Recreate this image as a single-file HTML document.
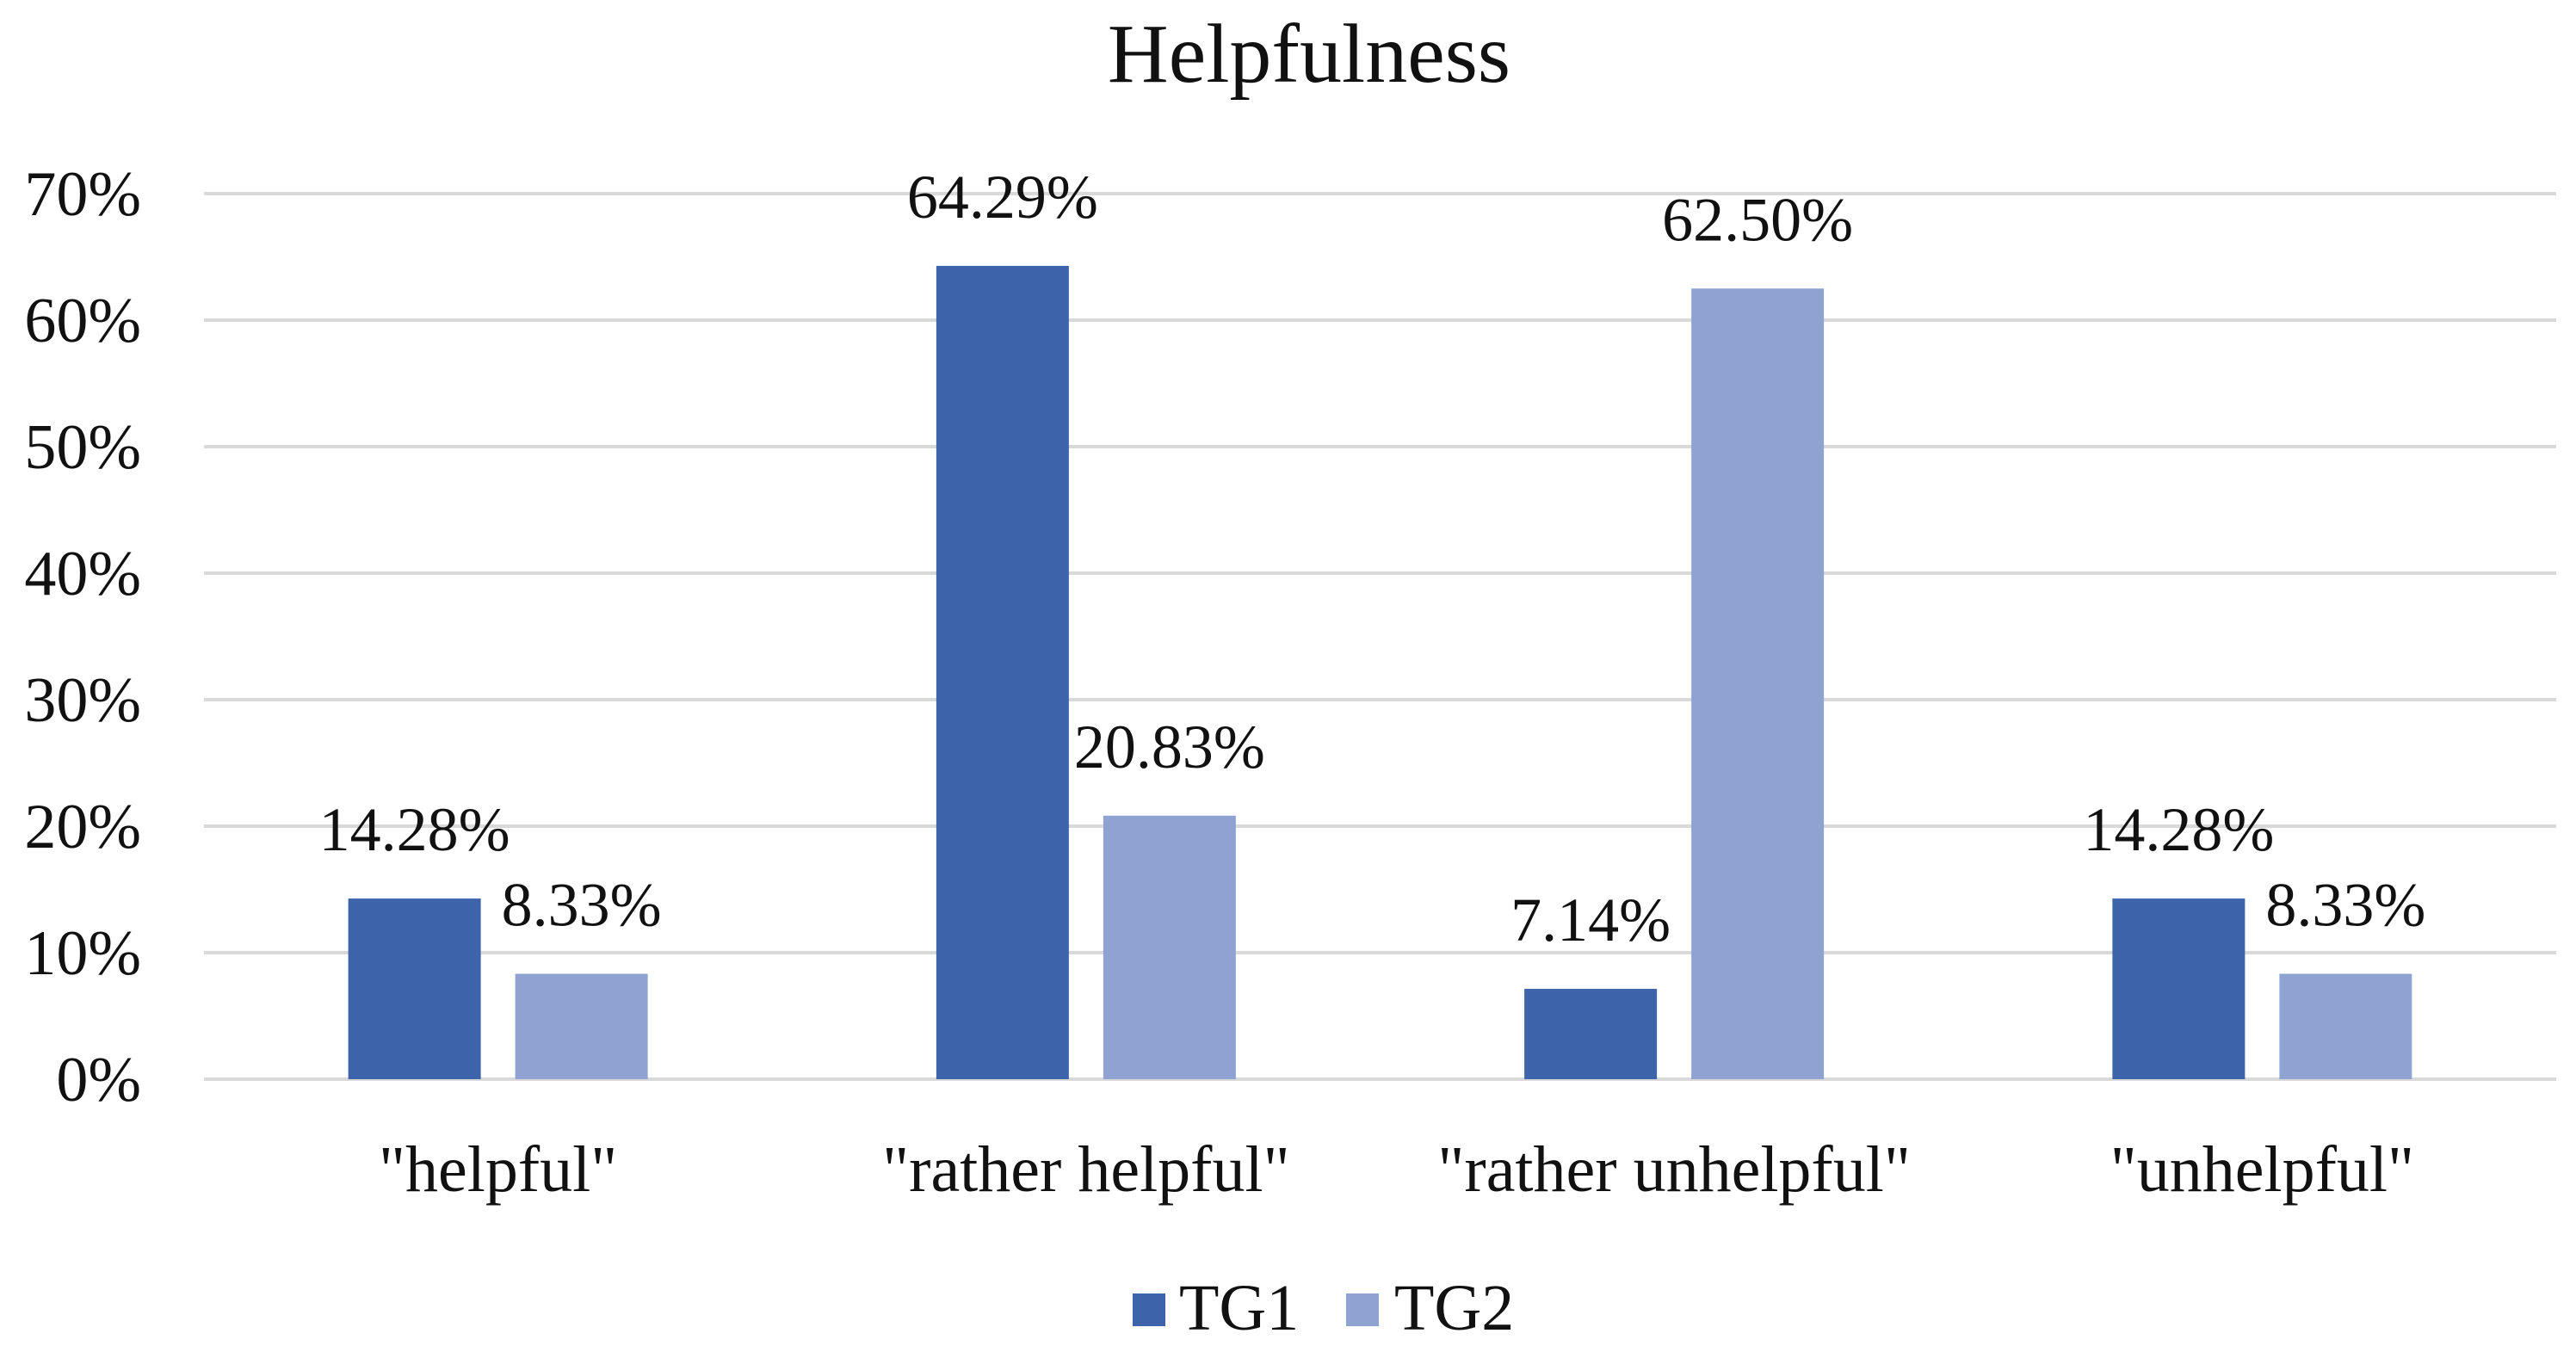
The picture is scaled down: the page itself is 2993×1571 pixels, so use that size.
<!DOCTYPE html>
<html><head><meta charset="utf-8"><style>
html,body{margin:0;padding:0;background:#fff;}
svg{display:block;font-family:"Liberation Serif",serif;}
</style></head><body>
<svg id="chart" width="2993" height="1571" viewBox="0 0 2993 1571">
<text x="1521" y="95" font-size="98" text-anchor="middle" fill="#111">Helpfulness</text>
<g id="grid"></g><g id="bars"></g><g id="labels"></g>
<g>
<rect x="1316" y="1503" width="38" height="38" fill="#3d63aa"/>
<text x="1370" y="1545" font-size="76" fill="#111">TG1</text>
<rect x="1564" y="1503" width="38" height="38" fill="#8fa3d3"/>
<text x="1620" y="1545" font-size="76" fill="#111">TG2</text>
</g>
</svg>
<script>
const categories = ['"helpful"','"rather helpful"','"rather unhelpful"','"unhelpful"'];
const tg1 = [14.28, 64.29, 7.14, 14.28];
const tg2 = [8.33, 20.83, 62.50, 8.33];
const tg1Labels = ['14.28%','64.29%','7.14%','14.28%'];
const tg2Labels = ['8.33%','20.83%','62.50%','8.33%'];
const yTicks = [0,10,20,30,40,50,60,70];

const NS='http://www.w3.org/2000/svg';
const x0=237,x1=2970,yBase=1254,yTop=225,yMax=70;
const y=v=>yBase-(v/yMax)*(yBase-yTop);
const cw=(x1-x0)/categories.length;
const bw=154,gap=40;
function mk(tag,attrs,parent){const e=document.createElementNS(NS,tag);for(const k in attrs)e.setAttribute(k,attrs[k]);parent.appendChild(e);return e;}
const grid=document.getElementById('grid'),bars=document.getElementById('bars'),labels=document.getElementById('labels');
yTicks.forEach(t=>{
  const l=mk('line',{x1:x0,x2:x1,y1:y(t),y2:y(t),stroke:'#d9d9d9','stroke-width':4},grid);
  
  
  const tx=mk('text',{x:164,y:y(t)+25,'font-size':74,'text-anchor':'end',fill:'#111'},grid);
  tx.textContent=t+'%';
  
  
});
categories.forEach((c,i)=>{
  const cx=x0+cw*(i+0.5);
  const series=[[tg1[i],'#3d63aa',cx-gap/2-bw,tg1Labels[i],'tg1'],[tg2[i],'#8fa3d3',cx+gap/2,tg2Labels[i],'tg2']];
  series.forEach(s=>{
    const r=mk('rect',{x:s[2],y:y(s[0]),width:bw,height:yBase-y(s[0]),fill:s[1]},bars);
    
    
    const t=mk('text',{x:s[2]+bw/2,y:y(s[0])-56,'font-size':72,'text-anchor':'middle',fill:'#111'},labels);
    t.textContent=s[3];
    
    
  });
  const ct=mk('text',{x:cx,y:1384,'font-size':76,'text-anchor':'middle',fill:'#111'},labels);
  ct.textContent=c;
  
  
});
</script>
</body></html>
